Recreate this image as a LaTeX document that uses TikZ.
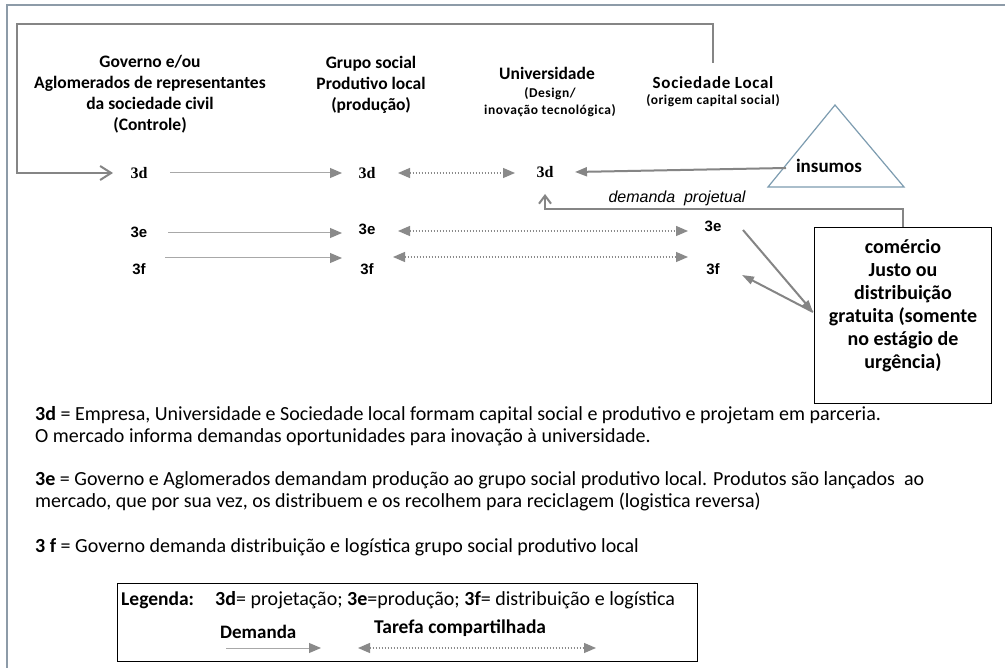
\documentclass[tikz,border=0pt]{standalone}
\usepackage{fontspec}
\setmainfont{Carlito}
\newfontfamily\arialfont{Liberation Sans}
\newfontfamily\timesfont{Liberation Serif}
\newfontfamily\widefont[LetterSpace=4]{Carlito}
\usetikzlibrary{arrows.meta}

\definecolor{framecol}{HTML}{8D9BA8}
\definecolor{loopcol}{HTML}{858585}
\definecolor{demcol}{HTML}{A8A8A8}
\definecolor{tipcol}{HTML}{8A8A8A}
\definecolor{tricol}{HTML}{7D9CB0}

\tikzset{
  head/.style={align=center, font=\fontsize{17.5}{21}\selectfont\bfseries, inner sep=0pt},
  subhead/.style={align=center, font=\widefont\fontsize{13.5}{17}\selectfont\bfseries, inner sep=0pt},
  lbl/.style={font=\arialfont\fontsize{15}{17}\selectfont\bfseries, inner sep=0pt},
  lbld/.style={font=\timesfont\fontsize{16}{18}\selectfont\bfseries, inner sep=0pt},
  dem/.style={demcol, line width=1pt, -{Triangle[length=12pt,width=10pt,fill=tipcol,color=tipcol]}},
  shared/.style={tipcol, line width=1.3pt, dash pattern=on 1.5pt off 1.5pt,
    {Triangle[length=12pt,width=10pt,fill=tipcol,color=tipcol]}-{Triangle[length=12pt,width=10pt,fill=tipcol,color=tipcol]}},
  thick gray/.style={loopcol, line width=2pt},
  bodytext/.style={anchor=west, font=\fontsize{20}{22}\selectfont, inner sep=0pt, align=left}
}

\begin{document}
\begin{tikzpicture}[x=1pt,y=-1pt]
\useasboundingbox (0,0) rectangle (1005,668);
\fill[white] (0,0) rectangle (1005,668);

% outer frame
\draw[framecol, line width=2pt] (7,668) -- (7,5) -- (1005,5);

% column headings
\node[head] (gov) at (150,94) {Governo e/ou\\Aglomerados de representantes\\da sociedade civil\\(Controle)};
\node[head] (grp) at (371,85) {Grupo social\\Produtivo local\\(produção)};
\node[head] (uni) at (547,73) {Universidade};
\node[subhead] (unisub) at (550,102) {(Design/\\inovação\ tecnológica)};
\node[head, font=\widefont\fontsize{17}{21}\selectfont\bfseries] (soc) at (713,83) {Sociedade Local};
\node[subhead] (socsub) at (713,101) {(origem capital social)};

% step labels
\node[lbld] (d1) at (139,173) {3d};
\node[lbld] (d2) at (367,173) {3d};
\node[lbld] (d3) at (545,172) {3d};
\node[lbl] (e1) at (139,232) {3e};
\node[lbl] (e2) at (367,229) {3e};
\node[lbl] (e3) at (713,226) {3e};
\node[lbl] (f1) at (139,269) {3f};
\node[lbl] (f2) at (367,269) {3f};
\node[lbl] (f3) at (713,269) {3f};

% supplies triangle
\coordinate (ta) at (835,105);
\coordinate (tl) at (768,187);
\coordinate (tr) at (904,187);
\draw[tricol, line width=1.2pt] (ta) -- (tl) -- (tr) -- cycle;
\node[font=\fontsize{19}{21}\selectfont\bfseries, inner sep=0pt] (ins) at (829,166) {insumos};
\coordinate (insl) at (786,168);

% trade box
\node[draw=black, line width=1.3pt, minimum width=177pt, minimum height=176pt,
      inner sep=0pt, anchor=north west] (com) at (814,227) {};
\node[align=center, font=\fontsize{20}{23}\selectfont\bfseries, inner sep=0pt, anchor=north]
  (comtxt) at (903,239) {comércio\\Justo ou\\distribuição\\gratuita (somente\\no estágio de\\urgência)};

% feedback loop from Sociedade Local to the government column
\coordinate (l0) at (713,63);
\coordinate (l1) at (713,24);
\coordinate (l2) at (17,24);
\coordinate (l3) at (17,173);
\draw[thick gray, -{Straight Barb[length=11pt,width=14pt]}] (l0) -- (l1) -- (l2) -- (l3) -- ([xshift=-26pt]d1.center);

% demand arrows
\draw[dem, shorten <=31pt, shorten >=25pt] (d1.center) -- (d2.center);
\draw[dem, shorten <=29pt, shorten >=25pt] ([yshift=-1pt]e1.center) -- ([yshift=-1pt]e1.center -| e2.center);
\draw[dem, shorten <=26pt, shorten >=25pt] ([yshift=11pt]f1.center) -- ([yshift=11pt]f2.center);

% shared tasks
\draw[shared, shorten <=31pt, shorten >=30pt] (d2.center) -- (d2.center -| d3.center);
\draw[shared, shorten <=31pt, shorten >=25pt] ([yshift=-2pt]e2.center) -- ([yshift=-2pt]e2.center -| e3.center);
\draw[shared, shorten <=26pt, shorten >=25pt] ([yshift=12pt]f2.center) -- ([yshift=12pt]f3.center);

% supplies to the university
\draw[thick gray, -{Triangle[length=12pt,width=9pt]}] (insl) -- ([xshift=30pt]d3.center);

% project demand back to the university
\coordinate (p1) at (903,209);
\coordinate (p2) at (545,209);
\coordinate (p3) at (545,194);
\draw[thick gray, -{Straight Barb[length=8pt,width=12pt]}] (com.north -| p1) -- (p1) -- (p2) -- (p3);
\node[font=\arialfont\itshape\fontsize{16}{18}\selectfont, inner sep=0pt] (dp) at (677,198) {demanda\ \ projetual};

% market links
\coordinate (cm) at (813,312);
\draw[thick gray, -{Triangle[length=12pt,width=8pt]}] ([shift={(30pt,-4pt)}]e3.center) -- (cm);
\draw[thick gray, -{Triangle[length=12pt,width=8pt]}] (cm) -- ([shift={(29pt,-6pt)}]f3.center);

% explanatory notes
\node[bodytext] (n1) at (35,415) {\textbf{3d} = Empresa, Universidade e Sociedade local formam capital social e produtivo e projetam em parceria.};
\node[bodytext] (n2) at (35,437) {O mercado informa demandas oportunidades para inovação à universidade.};
\node[bodytext] (n3) at (35,480) {\textbf{3e} = Governo e Aglomerados demandam produção ao grupo social produtivo local. Produtos são lançados\ \ ao};
\node[bodytext] (n4) at (35,502) {mercado, que por sua vez, os distribuem e os recolhem para reciclagem (logistica reversa)};
\node[bodytext] (n5) at (35,547) {\textbf{3 f} = Governo demanda distribuição e logística grupo social produtivo local};

% legend
\node[draw=black, line width=1.2pt, minimum width=580pt, minimum height=78pt, inner sep=0pt,
      anchor=north west] (leg) at (117,583) {};
\node[bodytext, font=\fontsize{19.5}{22}\selectfont\bfseries] (legt) at (121,600) {Legenda:};
\node[bodytext, font=\fontsize{20}{22}\selectfont] (legk) at (215,600) {\textbf{3d}= projetação; \textbf{3e}=produção; \textbf{3f}= distribuição e logística};
\node[bodytext, font=\fontsize{19}{22}\selectfont\bfseries] (legd) at (220,632) {Demanda};
\node[bodytext, font=\fontsize{19.5}{22}\selectfont\bfseries] (legs) at (374,628) {Tarefa compartilhada};
\coordinate (a1) at (226,648);
\coordinate (a2) at (321,648);
\coordinate (b1) at (358,648);
\coordinate (b2) at (596,648);
\draw[dem] (a1) -- (a2);
\draw[shared] (b1) -- (b2);
\end{tikzpicture}
\end{document}
